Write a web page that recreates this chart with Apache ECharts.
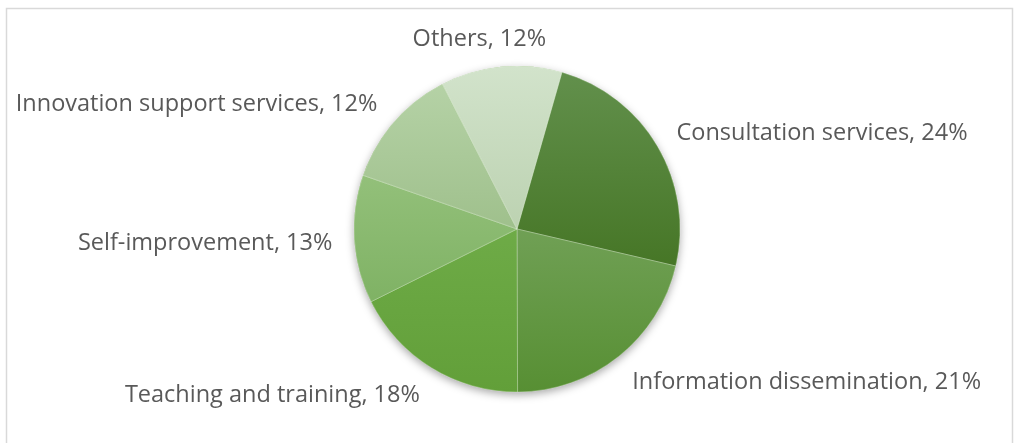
<!DOCTYPE html>
<html>
<head>
<meta charset="utf-8">
<script src="https://cdn.jsdelivr.net/npm/echarts@6/dist/echarts.min.js"></script>
<style>
  html, body { margin: 0; padding: 0; background: #fff; }
  #chart { width: 1014px; height: 443px; }
</style>
</head>
<body>
<div id="chart"></div>
<script>
// slices, clockwise from the top right
var categories = ['Consultation services', 'Information dissemination', 'Teaching and training',
  'Self-improvement', 'Innovation support services', 'Others'];
var values = [24.2, 21.3, 17.7, 12.7, 12.1, 12.0];
var topColors = ['#62904c', '#70a055', '#6eab47', '#93c07a', '#b5d2a6', '#d2e3cb'];
var bottomColors = ['#467626', '#578f33', '#629f39', '#7fb264', '#9fc08c', '#bcd2b1'];

var cx = 517, cy = 229, radius = 163;
var startAngle = 74;

var total = values.reduce(function (a, b) { return a + b; }, 0);
// mid angle of every slice, degrees clockwise from 12 o'clock
var mids = [];
var acc = 0;
values.forEach(function (v) {
  mids.push((90 - startAngle) + (acc + v / 2) / total * 360);
  acc += v;
});

var myChart = echarts.init(document.getElementById('chart'));

myChart.setOption({
  animation: false,
  graphic: [{
    type: 'rect',
    shape: { x: 6.5, y: 8.5, width: 1006, height: 450 },
    style: { fill: 'none', stroke: '#d9d9d9', lineWidth: 1.5 },
    silent: true
  }],
  series: [
    {
      // backing disc, only carries the drop shadow
      type: 'pie',
      center: [cx, cy],
      radius: radius,
      silent: true,
      z: 1,
      label: { show: false },
      labelLine: { show: false },
      itemStyle: {
        color: '#6aa842',
        shadowBlur: 8,
        shadowOffsetY: 3,
        shadowColor: 'rgba(0,0,0,0.35)'
      },
      data: [{ value: total, name: '' }]
    },
    {
      type: 'pie',
      center: [cx, cy],
      radius: radius,
      startAngle: startAngle,
      clockwise: true,
      z: 2,
      percentPrecision: 0,
      itemStyle: {
        borderColor: 'rgba(255,255,255,0.35)',
        borderWidth: 0.8
      },
      label: {
        show: true,
        position: 'outside',
        formatter: '{b}, {d}%',
        fontFamily: '"Open Sans", sans-serif',
        fontSize: 23.5,
        color: '#595959',
        overflow: 'none'
      },
      labelLine: { show: false },
      labelLayout: function (params) {
        var a = mids[params.dataIndex] * Math.PI / 180;
        var s = Math.sin(a), c = Math.cos(a);
        var w = params.labelRect.width / 2;
        var r = radius + 22;
        var k = Math.max(-1, Math.min(1, s * 3));
        return {
          x: cx + r * s + w * k,
          y: cy - r * c - 8 * c + 2,
          align: 'center',
          verticalAlign: 'middle'
        };
      },
      data: categories.map(function (name, i) {
        return {
          name: name,
          value: values[i],
          itemStyle: {
            color: {
              type: 'linear', x: 0, y: 0, x2: 0, y2: 1,
              colorStops: [
                { offset: 0, color: topColors[i] },
                { offset: 1, color: bottomColors[i] }
              ]
            }
          }
        };
      })
    }
  ]
});
</script>
</body>
</html>
